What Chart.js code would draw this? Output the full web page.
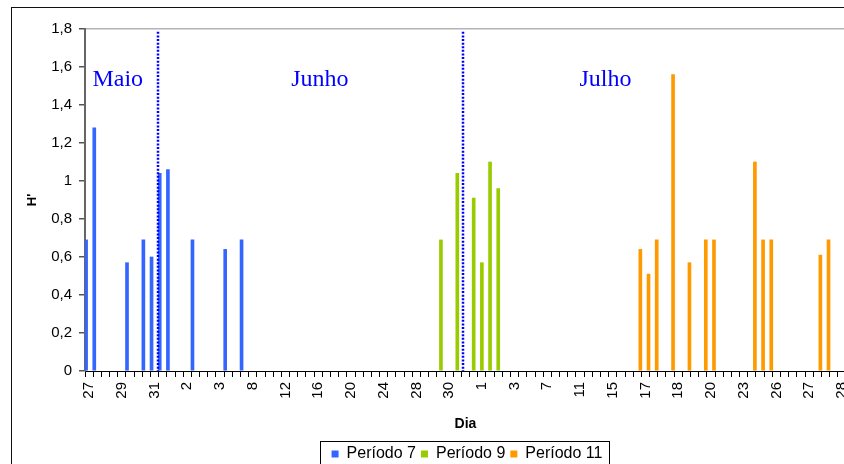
<!DOCTYPE html>
<html>
<head>
<meta charset="utf-8">
<script src="https://cdn.jsdelivr.net/npm/chart.js@4/dist/chart.umd.min.js"></script>
<style>
  html, body { margin: 0; padding: 0; background: #fff; width: 844px; height: 464px; overflow: hidden; }
  #frame { position: absolute; left: 11px; top: 7px; width: 1000px; height: 1000px;
           border-left: 1px solid #111; border-top: 1px solid #111; }
  #c { position: absolute; left: 0; top: 0; }
</style>
</head>
<body>
<div id="frame"></div>
<canvas id="c" width="900" height="480"></canvas>
<script>
// labels shown under every 4th sampling day (93 sampling days in all)
const tickLabels = ['27', '29', '31', '2', '3', '8', '12', '16', '20', '24', '28', '30',
                    '1', '3', '7', '11', '15', '17', '18', '20', '23', '26', '27', '28'];
const nDays = 93;

const periodo7 = [
  0.69, 1.28, null, null, null, 0.57, null, 0.69, 0.60, 1.04, 1.06, null,
  null, 0.69, null, null, null, 0.64, null, 0.69, null, null, null, null,
  null, null, null, null, null, null, null, null, null, null, null, null,
  null, null, null, null, null, null, null, null, null, null, null, null,
  null, null, null, null, null, null, null, null, null, null, null, null,
  null, null, null, null, null, null, null, null, null, null, null, null,
  null, null, null, null, null, null, null, null, null, null, null, null,
  null, null, null, null, null, null, null, null, null
];
const periodo9 = [
  null, null, null, null, null, null, null, null, null, null, null, null,
  null, null, null, null, null, null, null, null, null, null, null, null,
  null, null, null, null, null, null, null, null, null, null, null, null,
  null, null, null, null, null, null, null, 0.69, null, 1.04, null, 0.91,
  0.57, 1.10, 0.96, null, null, null, null, null, null, null, null, null,
  null, null, null, null, null, null, null, null, null, null, null, null,
  null, null, null, null, null, null, null, null, null, null, null, null,
  null, null, null, null, null, null, null, null, null
];
const periodo11 = [
  null, null, null, null, null, null, null, null, null, null, null, null,
  null, null, null, null, null, null, null, null, null, null, null, null,
  null, null, null, null, null, null, null, null, null, null, null, null,
  null, null, null, null, null, null, null, null, null, null, null, null,
  null, null, null, null, null, null, null, null, null, null, null, null,
  null, null, null, null, null, null, null, 0.64, 0.51, 0.69, null, 1.56,
  null, 0.57, null, 0.69, 0.69, null, null, null, null, 1.10, 0.69, 0.69,
  null, null, null, null, null, 0.61, 0.69, null, null
];

// month names and the dotted month boundaries, in category units
const months = ['Maio', 'Junho', 'Julho'];
const monthAt = [3.5, 28.2, 63.1];
const monthBoundaries = [8.39, 45.75];

let categories = [];
for (let i = 0; i < nDays; i++) {
    categories.push(i % 4 === 0 ? tickLabels[i / 4] : '');
}

const monthsPlugin = {
    id: 'months',
    afterLayout(chart) {
        // legend sits centred on the whole chart frame, not the plot
        const lg = chart.legend;
        const d = 44;
        lg.left += d;
        lg.right += d;
        lg.legendHitBoxes.forEach(b => { b.left += d; });
    },
    afterDatasetsDraw(chart) {
        const ctx = chart.ctx;
        const x = chart.scales.x, y = chart.scales.y;
        ctx.save();
        ctx.strokeStyle = '#0000ff';
        ctx.lineWidth = 2.5;
        ctx.setLineDash([2, 1.6]);
        monthBoundaries.forEach(v => {
            const px = Math.round(x.getPixelForValue(v));
            ctx.beginPath();
            ctx.moveTo(px, y.getPixelForValue(1.785));
            ctx.lineTo(px, y.getPixelForValue(0));
            ctx.stroke();
        });
        ctx.setLineDash([]);
        ctx.fillStyle = '#0000ff';
        ctx.font = '24px "Liberation Serif", "Times New Roman", serif';
        ctx.textAlign = 'center';
        ctx.textBaseline = 'alphabetic';
        months.forEach((m, i) => {
            ctx.fillText(m, x.getPixelForValue(monthAt[i]), y.getPixelForValue(1.5));
        });
        ctx.restore();
    },
    afterDraw(chart) {
        const ctx = chart.ctx;
        const boxes = chart.legend.legendHitBoxes;
        const l = boxes[0].left - 12;
        const r = boxes[boxes.length - 1].left + boxes[boxes.length - 1].width + 6;
        ctx.save();
        ctx.strokeStyle = '#000';
        ctx.lineWidth = 1;
        ctx.strokeRect(Math.round(l) + 0.5, Math.round(chart.legend.top) + 0.5, Math.round(r - l), 40);
        ctx.restore();
    }
};

const ctx = document.getElementById('c').getContext('2d');

new Chart(ctx, {
    type: 'bar',
    data: {
        labels: categories,
        datasets: [
            { label: 'Período 7', data: periodo7, backgroundColor: '#3366ff' },
            { label: 'Período 9', data: periodo9, backgroundColor: '#99cc00' },
            { label: 'Período 11', data: periodo11, backgroundColor: '#ff9900' }
        ]
    },
    options: {
        responsive: false,
        animation: false,
        layout: { padding: { left: 0, right: 54, top: 29, bottom: 8 } },
        datasets: { bar: { barThickness: 3, categoryPercentage: 0.84 } },
        scales: {
            x: {
                afterFit(scale) { scale.height = 70; },
                grid: { drawOnChartArea: false, tickLength: 6, tickColor: '#000', offset: true },
                border: { color: '#000', width: 1 },
                ticks: {
                    autoSkip: false, maxRotation: 90, minRotation: 90, padding: 5,
                    color: '#000', font: { family: 'Liberation Sans, Arial', size: 15 },
                    callback: (v, i) => categories[i]
                },
                title: {
                    display: true, text: 'Dia', color: '#000',
                    font: { family: 'Liberation Sans, Arial', size: 14, weight: 'bold' },
                    padding: { top: 0, bottom: 8 }
                }
            },
            y: {
                min: 0, max: 1.8,
                afterFit(scale) { scale.width = 85; },
                grid: {
                    color: c => (c.tick && c.tick.value >= 1.79 ? '#b4b4b4' : 'rgba(0,0,0,0)'),
                    lineWidth: 1.5, tickLength: 6, tickColor: '#555'
                },
                border: { color: '#666', width: 2 },
                ticks: {
                    stepSize: 0.2, padding: 7, color: '#000',
                    font: { family: 'Liberation Sans, Arial', size: 15 },
                    callback: v => String(Number(v.toFixed(1))).replace('.', ',')
                },
                title: {
                    display: true, text: "H'", color: '#000',
                    font: { family: 'Liberation Sans, Arial', size: 13, weight: 'bold' },
                    padding: { top: 25, bottom: 0 }
                }
            }
        },
        plugins: {
            legend: {
                position: 'bottom',
                labels: {
                    boxWidth: 7, boxHeight: 7, padding: 5, color: '#000',
                    font: { family: 'Liberation Sans, Arial', size: 16 }
                }
            },
            tooltip: { enabled: false }
        }
    },
    plugins: [monthsPlugin]
});
</script>
</body>
</html>
